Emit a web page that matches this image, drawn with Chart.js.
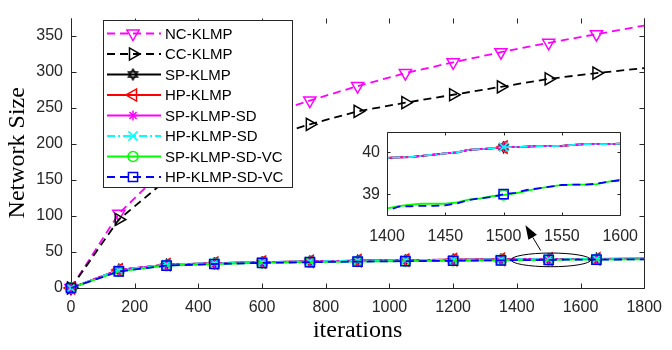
<!DOCTYPE html>
<html><head><meta charset="utf-8">
<script src="https://cdn.jsdelivr.net/npm/chart.js@4/dist/chart.umd.min.js"></script>
<style>
html,body{margin:0;padding:0;background:#fff;}
#wrap{position:relative;width:672px;height:350px;overflow:hidden;}
#main{position:absolute;left:0;top:0;}
#inset{position:absolute;left:340px;top:115px;}
</style></head><body>
<div id="wrap"><canvas id="main" width="672" height="350"></canvas><canvas id="inset" width="310" height="135"></canvas></div>
<script>
// ---------- data ----------
const markerIters = [0,150,300,450,600,750,900,1050,1200,1350,1500,1650,1800];
const ncKlmp = [0,103,168,208,238,260,280,298,313,327,340,352,364];
const ccKlmp = [0,95,150,183,207,227,245,257,268,279,290,298,305];

const iterations = [0,150,300,450,600,750,900,1050,1200,1350,
  1400,1410,1420,1430,1440,1450,1460,1470,1480,1490,1500,
  1510,1520,1530,1540,1550,1560,1570,1580,1590,1600,1650,1800];
const spKlmp = [0,25,32.5,34.6,36,37,37.9,38.6,39.2,39.7,
  39.87,39.88,39.89,39.92,39.95,39.98,40.0,40.06,40.08,40.1,40.13,
  40.13,40.14,40.15,40.15,40.16,40.18,40.2,40.2,40.2,40.21,40.3,40.6];
const hpKlmp = [0,25,32.5,34.6,36,37,37.9,38.6,39.2,39.7,
  39.87,39.88,39.89,39.92,39.95,39.98,40.0,40.06,40.08,40.1,40.13,
  40.13,40.14,40.15,40.15,40.16,40.18,40.2,40.2,40.2,40.21,40.3,40.6];
const spKlmpSd = [0,25,32.5,34.6,36,37,37.9,38.6,39.2,39.7,
  39.87,39.88,39.89,39.92,39.95,39.98,40.0,40.06,40.08,40.1,40.13,
  40.13,40.14,40.15,40.15,40.16,40.18,40.2,40.2,40.2,40.21,40.3,40.6];
const hpKlmpSd = [0,25,32.5,34.6,36,37,37.9,38.6,39.2,39.7,
  39.87,39.88,39.89,39.92,39.95,39.98,40.0,40.06,40.08,40.1,40.13,
  40.13,40.14,40.15,40.15,40.16,40.18,40.2,40.2,40.2,40.21,40.3,40.6];
const spKlmpSdVc = [0,23,31,33.3,34.8,35.8,36.6,37.2,37.8,38.4,
  38.66,38.71,38.75,38.77,38.77,38.77,38.8,38.87,38.9,38.95,38.98,
  39.02,39.08,39.14,39.18,39.22,39.23,39.23,39.24,39.3,39.35,39.4,39.7];
const hpKlmpSdVc = [0,23,31,33.3,34.8,35.8,36.6,37.2,37.8,38.4,
  38.6,38.7,38.71,38.72,38.72,38.73,38.78,38.86,38.9,38.93,39.0,
  39.03,39.1,39.14,39.18,39.22,39.23,39.23,39.25,39.3,39.33,39.4,39.7];

const xTicks = [0,200,400,600,800,1000,1200,1400,1600,1800];
const yTicks = [0,50,100,150,200,250,300,350];
const insetXTicks = [1400,1450,1500,1550,1600];
const insetYTicks = [39,40];

// ---------- styling ----------
function hexagram(color, size){
  const c=document.createElement('canvas'); c.width=c.height=size;
  const g=c.getContext('2d'); const cx=size/2, r=size/2-1.2;
  g.strokeStyle=color; g.lineWidth=1.4;
  for (const off of [-Math.PI/2, Math.PI/2]) {
    g.beginPath();
    for(let k=0;k<3;k++){const a=off+k*2*Math.PI/3; const px=cx+r*Math.cos(a), py=cx+r*Math.sin(a); k?g.lineTo(px,py):g.moveTo(px,py);}
    g.closePath(); g.stroke();
  }
  return c;
}
const hexImg = hexagram('#000', 13);
const pts = (xs, ys) => xs.map((x,i)=>({x:x, y:ys[i]}));
const DASH=[8,5], DASHDOT=[8,3,2,3];
const series = [
  {label:'NC-KLMP', xs:markerIters, ys:ncKlmp, color:'#ff00ff', dash:DASH, style:'triangle', rot:180, r:7},
  {label:'CC-KLMP', xs:markerIters, ys:ccKlmp, color:'#000000', dash:DASH, style:'triangle', rot:90, r:7},
  {label:'SP-KLMP', xs:iterations, ys:spKlmp, color:'#000000', dash:[], style:hexImg, rot:0, r:6},
  {label:'HP-KLMP', xs:iterations, ys:hpKlmp, color:'#ff0000', dash:[], style:'triangle', rot:270, r:7},
  {label:'SP-KLMP-SD', xs:iterations, ys:spKlmpSd, color:'#ff00ff', dash:[], style:'star', rot:0, r:5},
  {label:'HP-KLMP-SD', xs:iterations, ys:hpKlmpSd, color:'#00ffff', dash:DASHDOT, style:'crossRot', rot:0, r:6.5},
  {label:'SP-KLMP-SD-VC', xs:iterations, ys:spKlmpSdVc, color:'#00ff00', dash:[], style:'circle', rot:0, r:5},
  {label:'HP-KLMP-SD-VC', xs:iterations, ys:hpKlmpSdVc, color:'#0000ff', dash:DASH, style:'rect', rot:0, r:6.5}
];
function makeDatasets(list){
  return list.map((s,i)=>({
    label:s.label, data:pts(s.xs,s.ys), borderColor:s.color, borderWidth:1.8, borderDash:s.dash,
    pointStyle:s.style, pointRotation:s.rot, mRadius:s.r,
    pointRadius: c => (c.raw && c.raw.x % 150 === 0 && c.raw.x < 1800) ? s.r : 0,
    pointHoverRadius:0, pointBorderColor:s.color, pointBackgroundColor:'rgba(0,0,0,0)', pointBorderWidth:1.5,
    tension:0, fill:false, order: 20 - i
  }));
}
const AX='#262626';
const tickFont = {family:'"Liberation Sans", Arial, sans-serif', size:16};
const plain = v => String(v);

function axesPlugin(id, hook){
  return { id:id, [hook](chart, args, o){
    const {ctx, chartArea:a, scales:{x,y}} = chart;
    ctx.save(); ctx.strokeStyle=AX; ctx.lineWidth=1; ctx.setLineDash([]);
    const L=Math.round(a.left)+.5, R=Math.round(a.right)+.5, T=Math.round(a.top)+.5, B=Math.round(a.bottom)+.5;
    ctx.beginPath();
    if (o.top){ ctx.moveTo(L,T); ctx.lineTo(R,T); }
    ctx.moveTo(L,T); ctx.lineTo(L,B); ctx.lineTo(R,B); ctx.lineTo(R,T);
    const t=o.tick;
    x.ticks.forEach(k=>{const px=Math.round(x.getPixelForValue(k.value))+.5; ctx.moveTo(px,B); ctx.lineTo(px,B-t); ctx.moveTo(px,T); ctx.lineTo(px,T+t);});
    y.ticks.forEach(k=>{const py=Math.round(y.getPixelForValue(k.value))+.5; ctx.moveTo(L,py); ctx.lineTo(L+t,py); ctx.moveTo(R,py); ctx.lineTo(R-t,py);});
    ctx.stroke(); ctx.restore();
  }};
}

const annotPlugin = { id:'mAnnot', afterDatasetsDraw(chart){
  const {ctx, scales:{x,y}} = chart;
  ctx.save(); ctx.strokeStyle='#000'; ctx.lineWidth=1; ctx.setLineDash([]);
  const cx=x.getPixelForValue(1507), cy=y.getPixelForValue(39);
  const rx=x.getPixelForValue(1632)-cx, ry=y.getPixelForValue(39)-y.getPixelForValue(48.5);
  ctx.beginPath(); ctx.ellipse(cx,cy,rx,ry,0,0,Math.PI*2); ctx.stroke();
  const tx=x.getPixelForValue(1427), ty=y.getPixelForValue(87);
  const sx=x.getPixelForValue(1475), sy=y.getPixelForValue(52);
  const ang=Math.atan2(ty-sy, tx-sx), hl=14, hw=5;
  const bx=tx-hl*Math.cos(ang), by=ty-hl*Math.sin(ang);
  ctx.beginPath(); ctx.moveTo(sx,sy); ctx.lineTo(bx,by); ctx.stroke();
  ctx.fillStyle='#000'; ctx.beginPath(); ctx.moveTo(tx,ty);
  ctx.lineTo(bx+hw*Math.sin(ang), by-hw*Math.cos(ang));
  ctx.lineTo(bx-hw*Math.sin(ang), by+hw*Math.cos(ang)); ctx.closePath(); ctx.fill();
  ctx.restore();
}};

const legendPlugin = { id:'mLegend', afterDraw(chart){
  const ctx=chart.ctx; ctx.save();
  const x0=103.5, y0=20.5, w=189, h=167;
  ctx.fillStyle='#fff'; ctx.fillRect(x0,y0,w,h);
  ctx.strokeStyle=AX; ctx.lineWidth=1; ctx.setLineDash([]); ctx.strokeRect(x0,y0,w,h);
  chart.data.datasets.forEach((ds,i)=>{
    const yy = 33.5 + i*20.5;
    ctx.strokeStyle=ds.borderColor; ctx.lineWidth=ds.borderWidth; ctx.setLineDash(ds.borderDash||[]);
    ctx.beginPath(); ctx.moveTo(107,yy); ctx.lineTo(161,yy); ctx.stroke();
    ctx.setLineDash([]);
    ctx.strokeStyle=ds.pointBorderColor; ctx.fillStyle='rgba(0,0,0,0)'; ctx.lineWidth=ds.pointBorderWidth;
    Chart.helpers.drawPoint(ctx, {pointStyle:ds.pointStyle, rotation:ds.pointRotation, radius:ds.mRadius, borderWidth:ds.pointBorderWidth}, 133, yy);
    ctx.fillStyle='#000'; ctx.font='15px "Liberation Sans", Arial, sans-serif'; ctx.textBaseline='middle'; ctx.textAlign='left';
    ctx.fillText(ds.label, 165, yy+1);
  });
  ctx.restore();
}};

new Chart(document.getElementById('main'), {
  type:'line',
  data:{datasets: makeDatasets(series).map(d=>Object.assign(d,{clip:false}))},
  options:{
    responsive:false, animation:false, events:[],
    layout:{padding:{left:0,right:19,top:5,bottom:0}},
    plugins:{legend:{display:false}, tooltip:{enabled:false}, mAxesMain:{top:false, tick:5}},
    scales:{
      x:{type:'linear', min:0, max:1800,
        afterBuildTicks:s=>{s.ticks=xTicks.map(v=>({value:v}));},
        afterFit:s=>{s.height=62;},
        grid:{display:false, drawTicks:false}, border:{display:false},
        ticks:{font:tickFont, color:AX, padding:10, maxRotation:0, autoSkip:false, callback:plain},
        title:{display:true, text:'iterations', color:'#000', font:{family:'"Liberation Serif", "Times New Roman", serif', size:24}, padding:{top:0,bottom:5}}},
      y:{type:'linear', min:0, max:375,
        afterBuildTicks:s=>{s.ticks=yTicks.map(v=>({value:v}));},
        afterFit:s=>{s.width=71;},
        grid:{display:false, drawTicks:false}, border:{display:false},
        ticks:{font:tickFont, color:AX, padding:8, callback:plain},
        title:{display:true, text:'Network Size', color:'#000', font:{family:'"Liberation Serif", "Times New Roman", serif', size:24}, padding:{top:3,bottom:0}}}
    }
  },
  plugins:[axesPlugin('mAxesMain','beforeDatasetsDraw'), annotPlugin, legendPlugin]
});

const insetBg = { id:'insetBg', beforeDatasetsDraw(chart){
  const {ctx, chartArea:a}=chart; ctx.save(); ctx.fillStyle='#fff';
  ctx.fillRect(a.left,a.top,a.right-a.left,a.bottom-a.top); ctx.restore();
}};
new Chart(document.getElementById('inset'), {
  type:'line',
  data:{datasets: makeDatasets(series).slice(2)},
  options:{
    responsive:false, animation:false, events:[],
    layout:{padding:{left:0,right:23,top:12,bottom:0}},
    plugins:{legend:{display:false}, tooltip:{enabled:false}, mAxesInset:{top:true, tick:3}},
    scales:{
      x:{type:'linear', min:1400, max:1600,
        afterBuildTicks:s=>{s.ticks=insetXTicks.map(v=>({value:v}));},
        afterFit:s=>{s.height=35;},
        grid:{display:false, drawTicks:false}, border:{display:false},
        ticks:{font:tickFont, color:AX, padding:12, maxRotation:0, autoSkip:false, callback:plain}},
      y:{type:'linear', min:38.5, max:40.5,
        afterBuildTicks:s=>{s.ticks=insetYTicks.map(v=>({value:v}));},
        afterFit:s=>{s.width=47;},
        grid:{display:false, drawTicks:false}, border:{display:false},
        ticks:{font:tickFont, color:AX, padding:7, callback:plain}}
    }
  },
  plugins:[insetBg, axesPlugin('mAxesInset','afterDatasetsDraw')]
});
</script>
</body></html>
